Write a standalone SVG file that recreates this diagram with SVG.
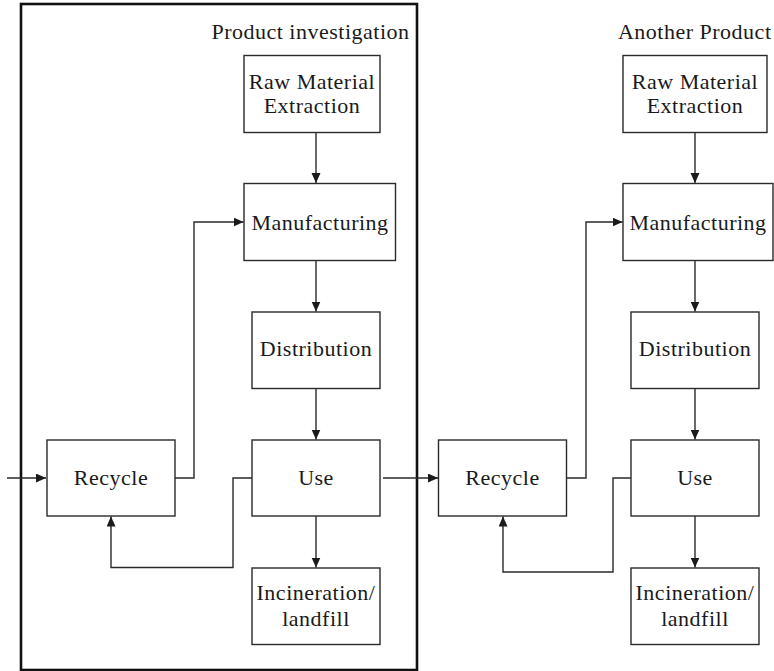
<svg xmlns="http://www.w3.org/2000/svg" width="774" height="671" viewBox="0 0 774 671">
  <style>
    .box { fill: #ffffff; stroke: #2a2a2a; stroke-width: 1.4; }
    .frame { fill: none; stroke: #111111; stroke-width: 2.6; }
    .lbl { font-family: 'Liberation Serif', 'DejaVu Serif', serif; font-size: 22px; letter-spacing: 0.5px; fill: #1a1a1a; text-anchor: middle; }
    .title { font-family: 'Liberation Serif', 'DejaVu Serif', serif; font-size: 22px; letter-spacing: 0.5px; fill: #1a1a1a; text-anchor: end; }
    .edge { fill: none; stroke: #2a2a2a; stroke-width: 1.4; }
  </style>
  <defs>
    <marker id="arrow" markerUnits="userSpaceOnUse" markerWidth="12" markerHeight="10" refX="10" refY="4.5" orient="auto">
      <path d="M0,0 L10,4.5 L0,9 Z" fill="#1a1a1a"/>
    </marker>
  </defs>

  <rect width="774" height="671" fill="#ffffff"/>

  <!-- system boundary of the product under study -->
  <g id="boundary">
    <rect class="frame" x="21" y="4" width="396" height="666"/>
    <text class="title" x="409.5" y="39">Product investigation</text>
  </g>
  <g id="another-title">
    <text class="title" x="771.5" y="39">Another Product</text>
  </g>

  <!-- product 1 life cycle -->
  <g id="raw1">
    <rect class="box" x="244" y="55.5" width="136" height="77"/>
    <text class="lbl" x="312" y="88.5">Raw Material</text>
    <text class="lbl" x="312" y="113">Extraction</text>
  </g>
  <g id="manuf1">
    <rect class="box" x="244" y="183.5" width="151.5" height="77"/>
    <text class="lbl" x="320" y="229.5">Manufacturing</text>
  </g>
  <g id="dist1">
    <rect class="box" x="252" y="312" width="128" height="76.5"/>
    <text class="lbl" x="316" y="356">Distribution</text>
  </g>
  <g id="use1">
    <rect class="box" x="252" y="440" width="128" height="76"/>
    <text class="lbl" x="316" y="485">Use</text>
  </g>
  <g id="recycle1">
    <rect class="box" x="47" y="440" width="128" height="76"/>
    <text class="lbl" x="111" y="485">Recycle</text>
  </g>
  <g id="incin1">
    <rect class="box" x="252" y="568" width="128" height="76.5"/>
    <text class="lbl" x="316" y="600">Incineration/</text>
    <text class="lbl" x="316" y="626">landfill</text>
  </g>

  <!-- product 2 life cycle -->
  <g id="raw2">
    <rect class="box" x="623" y="55.5" width="144" height="77"/>
    <text class="lbl" x="695" y="88.5">Raw Material</text>
    <text class="lbl" x="695" y="113">Extraction</text>
  </g>
  <g id="manuf2">
    <rect class="box" x="623" y="183.5" width="150" height="77"/>
    <text class="lbl" x="698" y="229.5">Manufacturing</text>
  </g>
  <g id="dist2">
    <rect class="box" x="631" y="312" width="128" height="76.5"/>
    <text class="lbl" x="695" y="356">Distribution</text>
  </g>
  <g id="use2">
    <rect class="box" x="631" y="440" width="128" height="76"/>
    <text class="lbl" x="695" y="485">Use</text>
  </g>
  <g id="recycle2">
    <rect class="box" x="438.5" y="440" width="128" height="76"/>
    <text class="lbl" x="502.5" y="485">Recycle</text>
  </g>
  <g id="incin2">
    <rect class="box" x="631" y="568" width="128" height="76.5"/>
    <text class="lbl" x="695" y="600">Incineration/</text>
    <text class="lbl" x="695" y="626">landfill</text>
  </g>

  <g id="connectors">
    <!-- product 1 -->
    <path class="edge" d="M7,478 H46" marker-end="url(#arrow)"/>
    <path class="edge" d="M316,132.5 V183" marker-end="url(#arrow)"/>
    <path class="edge" d="M175,478 H194 V222 H243.5" marker-end="url(#arrow)"/>
    <path class="edge" d="M316,260.5 V311.5" marker-end="url(#arrow)"/>
    <path class="edge" d="M316,388.5 V439.5" marker-end="url(#arrow)"/>
    <path class="edge" d="M252,478 H233 V567.5 H111 V516.5" marker-end="url(#arrow)"/>
    <path class="edge" d="M316,516 V567.5" marker-end="url(#arrow)"/>
    <path class="edge" d="M383,478 H438" marker-end="url(#arrow)"/>
    <!-- product 2 -->
    <path class="edge" d="M695,132.5 V183" marker-end="url(#arrow)"/>
    <path class="edge" d="M566.5,478 H586 V222 H622.5" marker-end="url(#arrow)"/>
    <path class="edge" d="M695,260.5 V311.5" marker-end="url(#arrow)"/>
    <path class="edge" d="M695,388.5 V439.5" marker-end="url(#arrow)"/>
    <path class="edge" d="M631,478 H613 V572 H503 V516.5" marker-end="url(#arrow)"/>
    <path class="edge" d="M695,516 V567.5" marker-end="url(#arrow)"/>
  </g>
</svg>
